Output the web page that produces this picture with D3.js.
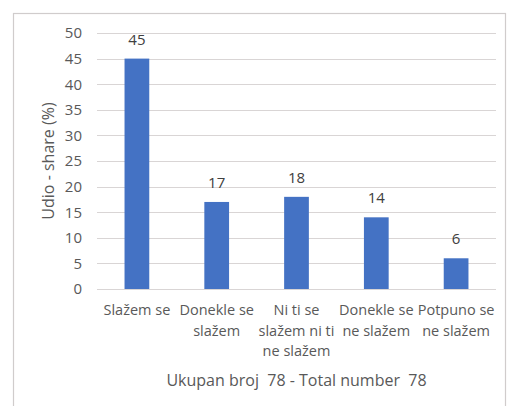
<!DOCTYPE html>
<html>
<head>
<meta charset="utf-8">
<script src="https://cdn.jsdelivr.net/npm/d3@7"></script>
<style>
    body { margin: 0; background: #fff; }
    text { font-family: "Open Sans", sans-serif; }
</style>
</head>
<body>
<div id="chart"></div>
<script>
// data
const categories = ["Slažem se", "Donekle se slažem", "Ni ti se slažem ni ti ne slažem", "Donekle se ne slažem", "Potpuno se ne slažem"];
const categoryLines = [["Slažem se"], ["Donekle se", "slažem"], ["Ni ti se", "slažem ni ti", "ne slažem"], ["Donekle se", "ne slažem"], ["Potpuno se", "ne slažem"]];
const values = [45, 17, 18, 14, 6];
const yTicks = [0, 5, 10, 15, 20, 25, 30, 35, 40, 45, 50];
const yTitle = "Udio - share (%)";
const xTitle = "Ukupan broj  78 - Total number  78";

const width = 508, height = 406;
const plot = { left: 97, right: 496, top: 33, bottom: 289 };

const svg = d3.select("#chart").append("svg")
    .attr("width", width)
    .attr("height", height);

// chart frame
svg.append("rect")
    .attr("x", 13.5).attr("y", 13.5)
    .attr("width", 492).attr("height", 420)
    .attr("fill", "none")
    .attr("stroke", "#d0cccc")
    .attr("stroke-width", 1.2);

const x = d3.scaleBand()
    .domain(categories)
    .range([plot.left, plot.right])
    .paddingInner(0.69)
    .paddingOuter(0.345);

const y = d3.scaleLinear()
    .domain([0, 50])
    .range([plot.bottom, plot.top]);

// gridlines
svg.append("g")
    .selectAll("line")
    .data(yTicks)
    .join("line")
    .attr("x1", plot.left)
    .attr("x2", plot.right)
    .attr("y1", d => Math.round(y(d)) + 0.5)
    .attr("y2", d => Math.round(y(d)) + 0.5)
    .attr("stroke", "#d9d5d5")
    .attr("stroke-width", 1);

// y axis labels
const yAxis = svg.append("g")
    .attr("transform", `translate(${plot.left}, 0)`)
    .call(d3.axisLeft(y).tickValues(yTicks).tickSize(0).tickPadding(15));
yAxis.select(".domain").remove();
yAxis.selectAll("text")
    .attr("font-size", 15)
    .attr("fill", "#595959")
    .style("font-family", "'Open Sans', sans-serif");

// bars
svg.append("g")
    .selectAll("rect")
    .data(values)
    .join("rect")
    .attr("x", (d, i) => x(categories[i]))
    .attr("width", x.bandwidth())
    .attr("y", d => y(d))
    .attr("height", d => y(0) - y(d))
    .attr("fill", "#4472c4");

// value labels
svg.append("g")
    .selectAll("text")
    .data(values)
    .join("text")
    .attr("x", (d, i) => x(categories[i]) + x.bandwidth() / 2)
    .attr("y", d => y(d) - 14)
    .attr("text-anchor", "middle")
    .attr("font-size", 15)
    .attr("fill", "#404040")
    .text(d => d);

// category labels, wrapped like the original
const catGroup = svg.append("g");
categoryLines.forEach((lines, i) => {
    const cx = x(categories[i]) + x.bandwidth() / 2;
    const t = catGroup.append("text")
        .attr("text-anchor", "middle")
        .attr("font-size", 14.5)
        .attr("fill", "#595959");
    lines.forEach((line, j) => {
        t.append("tspan")
            .attr("x", cx)
            .attr("y", 315 + j * 20.5)
            .text(line);
    });
});

// axis titles
svg.append("text")
    .attr("transform", `translate(54, ${(plot.top + plot.bottom) / 2}) rotate(-90)`)
    .attr("text-anchor", "middle")
    .attr("font-size", 16)
    .attr("fill", "#595959")
    .text(yTitle);

svg.append("text")
    .attr("x", (plot.left + plot.right) / 2)
    .attr("y", 386)
    .attr("text-anchor", "middle")
    .attr("font-size", 16)
    .attr("fill", "#595959")
    .style("white-space", "pre")
    .text(xTitle);
</script>
</body>
</html>
